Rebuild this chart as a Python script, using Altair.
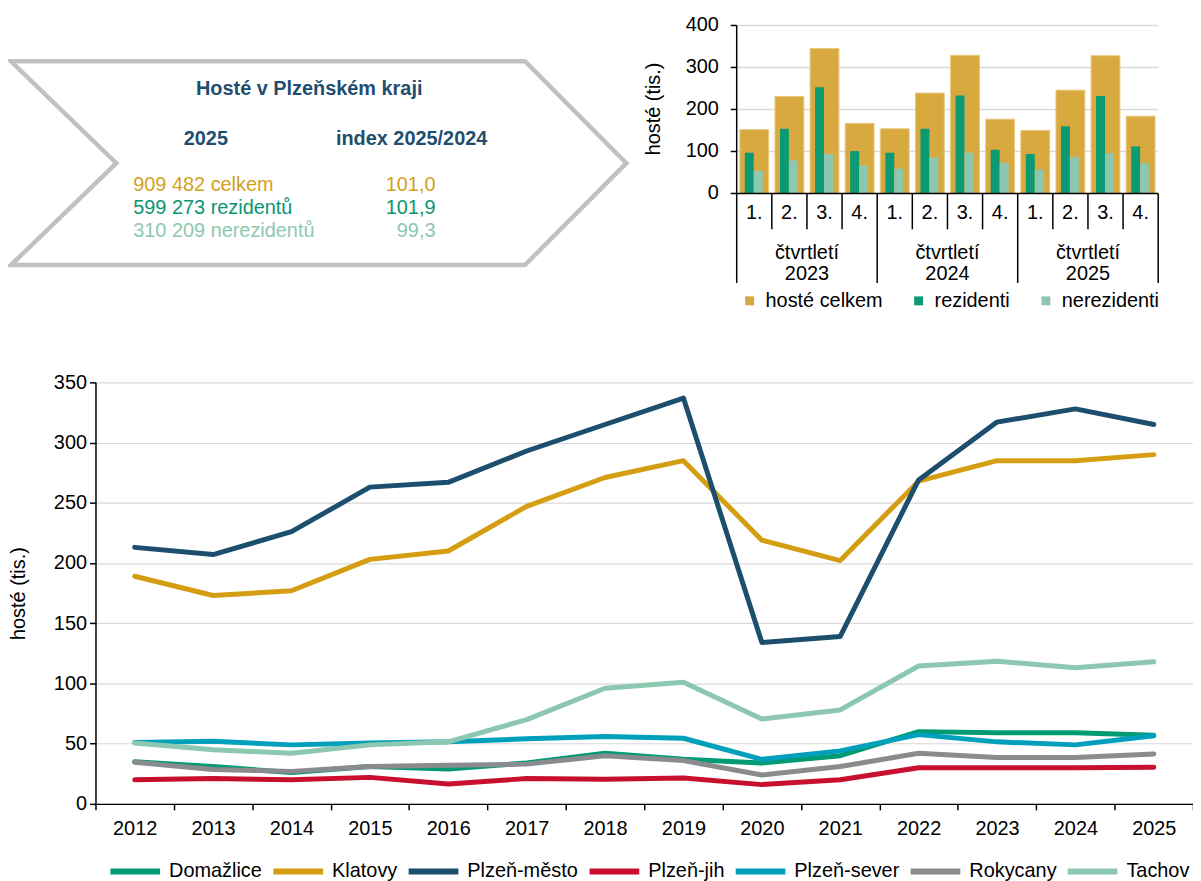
import altair as alt
import pandas as pd

# ---------------- data ----------------
quarter_labels = ["1.", "2.", "3.", "4."]
quarter_years = ["2023", "2024", "2025"]
bar_series = ["hosté celkem", "rezidenti", "nerezidenti"]
hoste_celkem = [152, 231, 345, 167, 154, 239, 329, 177, 150, 246, 328, 184]
rezidenti = [97, 154, 253, 101, 97, 154, 233, 104, 94, 160, 232, 112]
nerezidenti = [54, 79, 94, 67, 59, 86, 97, 73, 57, 87, 96, 72]
bar_ticks = [0, 100, 200, 300, 400]

years = ["2012", "2013", "2014", "2015", "2016", "2017", "2018",
         "2019", "2020", "2021", "2022", "2023", "2024", "2025"]
districts = ["Domažlice", "Klatovy", "Plzeň-město", "Plzeň-jih",
             "Plzeň-sever", "Rokycany", "Tachov"]
domazlice = [35, 31, 26, 31, 29, 34, 42, 37, 34, 40, 60, 59, 59, 57]
klatovy = [189, 173, 177, 203, 210, 247, 271, 285, 219, 202, 268, 285, 285, 290]
plzen_mesto = [213, 207, 226, 263, 267, 293, 315, 337, 134, 139, 269, 317, 328, 315]
plzen_jih = [20, 21, 20, 22, 16.5, 21, 20.5, 21.5, 16, 20, 30, 30, 30, 30.5]
plzen_sever = [51, 52, 49, 50.5, 51.5, 54, 56, 54.5, 37, 44, 57.5, 51.5, 49, 56.5]
rokycany = [34.5, 28.5, 27, 31, 32, 33, 40, 36, 24, 31, 42, 38.5, 38.5, 41.5]
tachov = [50.5, 45, 42, 49, 51.5, 70, 96, 101, 70.5, 78, 114.5, 118.5, 113, 118]
district_values = [domazlice, klatovy, plzen_mesto, plzen_jih, plzen_sever, rokycany, tachov]
line_ticks = [0, 50, 100, 150, 200, 250, 300, 350]

summary_title = "Hosté v Plzeňském kraji"
summary_heads = ["2025", "index 2025/2024"]
summary_totals = ["909 482 celkem", "599 273 rezidentů", "310 209 nerezidentů"]
summary_index = ["101,0", "101,9", "99,3"]
group_prefix = "čtvrtletí"
y_title = "hosté (tis.)"

# ---------------- styles / layout (page pixels) ----------------
district_colors = ["#009a73", "#d59d12", "#1c4f6e", "#c8102e", "#00a0bd", "#898b8e", "#8cc7af"]
bar_colors = ["#d8a93e", "#0b9a73", "#8cc7b0"]
summary_colors = ["#d49f1c", "#0a9572", "#8dc8b0"]
title_blue = "#1f4e6e"
FS = 20

LX, LY = 96, 382                  # line plot origin on the page
W2, H2 = 1104, 424                # line plot size
BAR_L, BAR_R, BAR_T, BAR_B = 741, 1165, 23, 192


def rx(v):
    return v - LX


def ry(v):
    return v - LY


# ---------------- line chart ----------------
lrows = []
for d, vals in zip(districts, district_values):
    for y, v in zip(years, vals):
        lrows.append({"district": d, "year": y, "value": v})
line_df = pd.DataFrame(lrows)

lines = alt.Chart(line_df).mark_line(
    strokeWidth=5, strokeCap="round", strokeJoin="round").encode(
    x=alt.X("year:N", sort=years, bandPosition=0.5,
            scale=alt.Scale(type="band", domain=years, paddingInner=0, paddingOuter=0),
            axis=alt.Axis(title=None, tickBand="extent", tickSize=6, tickColor="black",
                          tickWidth=1.5, domainColor="black", domainWidth=1.5,
                          labelFontSize=FS, labelPadding=9, labelAngle=0, grid=False,
                          labelColor="black")),
    y=alt.Y("value:Q", scale=alt.Scale(domain=[0, 350], nice=False),
            axis=alt.Axis(values=line_ticks, title=y_title, titleColor="black",
                          titleFontSize=FS, titleFontWeight="normal", titlePadding=25,
                          labelFontSize=FS, labelPadding=3, tickSize=6, tickColor="black",
                          tickWidth=1.5, domainColor="black", domainWidth=1.5,
                          gridColor="#d9d9d9", gridWidth=1.2, labelColor="black")),
    color=alt.Color("district:N", sort=districts,
                    scale=alt.Scale(domain=districts, range=district_colors),
                    legend=alt.Legend(title=None, orient="none", legendX=12,
                                      legendY=ry(871) - 25,
                                      direction="horizontal", symbolType="stroke",
                                      symbolSize=2500, symbolStrokeWidth=6,
                                      labelFontSize=FS, labelOffset=6, labelColor="black",
                                      columnPadding=-1, padding=0)),
)

# ---------------- bar chart (placed above the line plot) ----------------
keys = [f"{y}-{q}" for y in quarter_years for q in quarter_labels]
rows = []
for i, k in enumerate(keys):
    for s, vals in zip(bar_series, [hoste_celkem, rezidenti, nerezidenti]):
        rows.append({"key": k, "q": quarter_labels[i % 4], "year": quarter_years[i // 4],
                     "series": s, "value": vals[i]})
bars_df = pd.DataFrame(rows)
keys_df = pd.DataFrame({"key": keys,
                        "q": [quarter_labels[i % 4] for i in range(len(keys))],
                        "year": [quarter_years[i // 4] for i in range(len(keys))]})
keys_df["glabel"] = group_prefix + "\n" + keys_df["year"]
ticks_df = pd.DataFrame({"tick": bar_ticks, "lbl": [str(t) for t in bar_ticks]})
one = pd.DataFrame({"a": [0]})

bx = alt.Scale(domain=keys, range=[rx(BAR_L), rx(BAR_R)], paddingInner=0, paddingOuter=0)
by = alt.Scale(domain=[0, 400], range=[ry(BAR_B), ry(BAR_T)], nice=False)
color_bar = alt.Color("series:N",
                      scale=alt.Scale(domain=bar_series, range=bar_colors),
                      legend=alt.Legend(title=None, orient="none", legendX=rx(744),
                                        legendY=ry(290),
                                        direction="horizontal", symbolType="square",
                                        symbolSize=81, symbolStrokeWidth=0,
                                        labelFontSize=FS, labelOffset=6, labelColor="black",
                                        columnPadding=26, padding=0))

bgrid = alt.Chart(ticks_df).transform_filter(alt.datum.tick > 0).mark_rule(
    color="#d9d9d9", strokeWidth=1.5).encode(
    y=alt.Y("tick:Q", scale=by, axis=None),
    x=alt.value(rx(BAR_L)), x2=alt.value(rx(BAR_R)))

base = alt.Chart(bars_df)
celkem = base.transform_filter(alt.datum.series == "hosté celkem").mark_bar(
    width=29, stroke="#e6c97e", strokeWidth=1).encode(
    x=alt.X("key:N", scale=bx, axis=None),
    y=alt.Y("value:Q", scale=by, axis=None), color=color_bar)
rez = base.transform_filter(alt.datum.series == "rezidenti").mark_bar(
    width=9, xOffset=-5).encode(
    x=alt.X("key:N", scale=bx, axis=None),
    y=alt.Y("value:Q", scale=by, axis=None), color=color_bar)
nerez = base.transform_filter(alt.datum.series == "nerezidenti").mark_bar(
    width=9, xOffset=4).encode(
    x=alt.X("key:N", scale=bx, axis=None),
    y=alt.Y("value:Q", scale=by, axis=None), color=color_bar)

by_labels = alt.Chart(ticks_df).mark_text(
    align="right", baseline="middle", fontSize=FS, color="black").encode(
    y=alt.Y("tick:Q", scale=by, axis=None), x=alt.value(rx(723)), text="lbl:N")
by_ticks = alt.Chart(ticks_df).mark_rule(color="black", strokeWidth=1.5).encode(
    y=alt.Y("tick:Q", scale=by, axis=None),
    x=alt.value(rx(735)), x2=alt.value(rx(BAR_L)))
by_domain = alt.Chart(one).mark_rule(color="black", strokeWidth=1.5).encode(
    x=alt.value(rx(BAR_L)), y=alt.value(ry(BAR_T)), y2=alt.value(ry(BAR_B)))
bx_domain = alt.Chart(one).mark_rule(color="black", strokeWidth=1.5).encode(
    x=alt.value(rx(BAR_L)), x2=alt.value(rx(BAR_R)), y=alt.value(ry(BAR_B)))
by_title = alt.Chart(pd.DataFrame({"t": [y_title]})).mark_text(
    angle=270, baseline="middle", align="center", fontSize=FS, color="black").encode(
    x=alt.value(rx(658)), y=alt.value(ry(107)), text="t:N")

kb = alt.Chart(keys_df)
short_rules = kb.transform_filter(alt.datum.q != "1.").mark_rule(
    color="black", strokeWidth=1.5).encode(
    x=alt.X("key:N", scale=bx, bandPosition=0, axis=None),
    y=alt.value(ry(BAR_B)), y2=alt.value(ry(BAR_B + 36)))
long_rules = kb.transform_filter(alt.datum.q == "1.").mark_rule(
    color="black", strokeWidth=1.5).encode(
    x=alt.X("key:N", scale=bx, bandPosition=0, axis=None),
    y=alt.value(ry(BAR_B)), y2=alt.value(ry(BAR_B + 90)))
end_rule = kb.transform_filter(alt.datum.key == keys[-1]).mark_rule(
    color="black", strokeWidth=1.5).encode(
    x=alt.X("key:N", scale=bx, bandPosition=1, axis=None),
    y=alt.value(ry(BAR_B)), y2=alt.value(ry(BAR_B + 90)))
q_text = kb.mark_text(fontSize=FS, baseline="middle", color="black").encode(
    x=alt.X("key:N", scale=bx, axis=None), y=alt.value(ry(212)), text="q:N")
g_text = kb.transform_filter(alt.datum.q == "2.").mark_text(
    fontSize=FS, baseline="middle", lineBreak="\n", lineHeight=21, color="black").encode(
    x=alt.X("key:N", scale=bx, bandPosition=1, axis=None), y=alt.value(ry(252)),
    text="glabel:N")

bar_group = alt.layer(bgrid, celkem, rez, nerez, by_labels, by_ticks, by_domain,
                      bx_domain, by_title, short_rules, long_rules, end_rule,
                      q_text, g_text)

# ---------------- summary box ----------------
chev_page = [(270, 59), (528, 59), (630, 161.5), (528, 264), (11, 264),
             (117, 161.5), (11, 59), (270, 59)]
chev_df = pd.DataFrame({"i": list(range(len(chev_page))),
                        "px": [rx(p[0]) for p in chev_page],
                        "py": [ry(p[1]) for p in chev_page]})
chevron = alt.Chart(chev_df).mark_line(
    stroke="#bfc1c4", strokeWidth=4.5, strokeJoin="miter", strokeMiterLimit=4).encode(
    x=alt.X("px:Q", scale=None, axis=None),
    y=alt.Y("py:Q", scale=None, axis=None),
    order="i:Q")


def txt(s, x, y, color, align="left", weight="normal"):
    return alt.Chart(pd.DataFrame({"t": [s]})).mark_text(
        align=align, baseline="middle", fontSize=FS, fontWeight=weight, color=color
    ).encode(x=alt.value(rx(x)), y=alt.value(ry(y)), text="t:N")


texts = [txt(summary_title, 311, 87, title_blue, "center", "bold"),
         txt(summary_heads[0], 207, 137, title_blue, "center", "bold"),
         txt(summary_heads[1], 414, 137, title_blue, "center", "bold")]
row_y = [184, 207, 230]
for t, ix, c, yy in zip(summary_totals, summary_index, summary_colors, row_y):
    texts.append(txt(t, 134, yy, c, "left"))
    texts.append(txt(ix, 438, yy, c, "right"))

box_group = alt.layer(chevron, *texts)

# ---------------- compose ----------------
chart = alt.layer(lines, bar_group, box_group).resolve_scale(
    x="independent", y="independent", color="independent"
).resolve_legend(color="independent").properties(
    width=W2, height=H2,
    autosize=alt.AutoSizeParams(type="none"),
    padding={"left": LX - 8, "top": LY - 8, "right": 0, "bottom": 75},
).configure(font="Liberation Sans").configure_view(stroke=None)

chart.save("out.html", embed_options={"renderer": "svg", "actions": False})
